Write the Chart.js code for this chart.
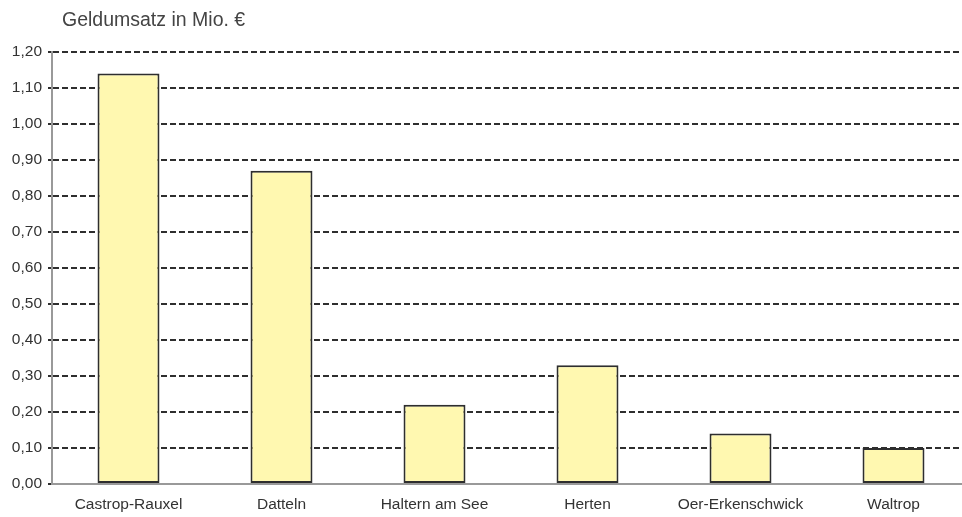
<!DOCTYPE html>
<html lang="de">
<head>
    <meta charset="UTF-8">
    <title>Geldumsatz</title>
    <style>
        body {
            margin: 0;
            overflow: hidden;
            background: #fff;
            font-family: "Liberation Sans", Arial, sans-serif;
        }
        #chartBlock {
            position: relative;
            width: 972px;
            height: 517px;
        }
        #chartTitle {
            position: absolute;
            left: 62px;
            top: 8px;
            font-size: 19.5px;
            color: #444;
        }
    </style>
</head>
<body>
    <div id="chartBlock">
        <div id="chartTitle">Geldumsatz in Mio. €</div>
        <canvas id="myChart"></canvas>
    </div>

<script src="https://cdn.jsdelivr.net/npm/chart.js@4/dist/chart.umd.min.js"></script>
<script>
    var categories = ['Castrop-Rauxel', 'Datteln', 'Haltern am See', 'Herten', 'Oer-Erkenschwick', 'Waltrop'];
    var umsatz = [1.14, 0.87, 0.22, 0.33, 0.14, 0.10];
    var yMin = 0;
    var yMax = 1.2;
    var yStep = 0.1;

    var ctx = document.getElementById('myChart').getContext('2d');

    var myChart = new Chart(ctx, {
        type: 'bar',
        data: {
            labels: categories,
            datasets: [{
                label: 'Geldumsatz in Mio. €',
                data: umsatz,
                backgroundColor: '#fff8b0',
                borderColor: '#2e2e2e',
                borderWidth: 2,
                borderSkipped: false,
                barPercentage: 1,
                categoryPercentage: 0.405
            }]
        },
        options: {
            responsive: true,
            maintainAspectRatio: false,
            animation: false,
            layout: {
                padding: { top: 52, right: 2, left: 0, bottom: 0 }
            },
            plugins: {
                legend: { display: false },
                tooltip: { enabled: false }
            },
            scales: {
                x: {
                    grid: { display: false, drawTicks: false },
                    border: { display: true, color: '#999', width: 2 },
                    ticks: {
                        color: '#333',
                        padding: 11,
                        maxRotation: 0,
                        font: { family: 'Liberation Sans', size: 15.5 }
                    },
                    afterFit: function (scale) { scale.height = 33; }
                },
                y: {
                    min: yMin,
                    max: yMax,
                    grid: {
                        color: function (c) { return c.tick && c.tick.value === 0 ? 'rgba(0,0,0,0)' : '#2e2e2e'; },
                        lineWidth: 2,
                        tickLength: 4,
                        tickColor: '#2e2e2e'
                    },
                    border: { display: true, color: '#999', width: 2, dash: [6, 3] },
                    ticks: {
                        stepSize: yStep,
                        color: '#333',
                        padding: 6,
                        font: { family: 'Liberation Sans', size: 15.5 },
                        callback: function (v) { return v.toFixed(2).replace('.', ','); }
                    },
                    afterFit: function (scale) { scale.width = 52; }
                }
            }
        }
    });
</script>
</body>
</html>
